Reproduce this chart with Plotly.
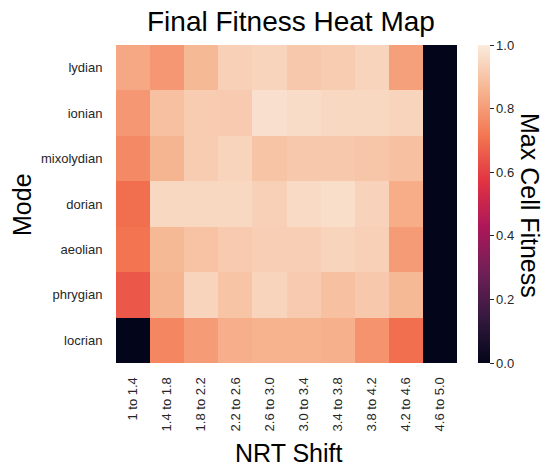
import plotly.graph_objects as go

modes = ["lydian", "ionian", "mixolydian", "dorian", "aeolian", "phrygian", "locrian"]
shifts = ["1 to 1.4", "1.4 to 1.8", "1.8 to 2.2", "2.2 to 2.6", "2.6 to 3.0",
          "3.0 to 3.4", "3.4 to 3.8", "3.8 to 4.2", "4.2 to 4.6", "4.6 to 5.0"]

lydian     = [0.83, 0.79, 0.87, 0.93, 0.94, 0.91, 0.92, 0.94, 0.81, 0.0]
ionian     = [0.79, 0.89, 0.92, 0.915, 0.97, 0.96, 0.95, 0.95, 0.94, 0.0]
mixolydian = [0.76, 0.86, 0.92, 0.94, 0.90, 0.91, 0.91, 0.905, 0.89, 0.0]
dorian     = [0.70, 0.95, 0.95, 0.95, 0.93, 0.955, 0.965, 0.935, 0.84, 0.0]
aeolian    = [0.71, 0.87, 0.895, 0.915, 0.925, 0.925, 0.94, 0.93, 0.80, 0.0]
phrygian   = [0.65, 0.86, 0.94, 0.90, 0.94, 0.915, 0.89, 0.91, 0.87, 0.0]
locrian    = [0.0, 0.75, 0.80, 0.845, 0.855, 0.855, 0.85, 0.78, 0.70, 0.0]

z = [lydian, ionian, mixolydian, dorian, aeolian, phrygian, locrian]

rocket = [
    [0.0, "#03051a"],
    [1/7, "#35193e"],
    [2/7, "#701f57"],
    [3/7, "#ad1759"],
    [4/7, "#e13342"],
    [5/7, "#f37651"],
    [6/7, "#f6b48f"],
    [1.0, "#faebdd"],
]

font = "Liberation Sans, Arial, sans-serif"
txt = "#262626"

W, H = 545, 468
L, R, T, B = 116, 88, 45, 105
pw, ph = W - L - R, H - T - B

def px(x):
    return (x - L) / pw

def py(y):
    return (H - B - y) / ph

fig = go.Figure(go.Heatmap(
    z=z, x=shifts, y=modes, zmin=0, zmax=1, colorscale=rocket, xgap=0, ygap=0,
    colorbar=dict(
        x=px(478), xanchor="left", xpad=0, ypad=0, y=0.5, yanchor="middle",
        len=1, lenmode="fraction", thickness=12, outlinewidth=0,
        ticks="outside", ticklen=4, tickcolor=txt, tickwidth=1,
        tickvals=[0, 0.2, 0.4, 0.6, 0.8, 1.0], tickformat=".1f",
        tickfont=dict(family=font, size=13, color=txt),
    ),
))

fig.update_layout(
    width=W, height=H,
    margin=dict(l=L, r=R, t=T, b=B, autoexpand=False),
    paper_bgcolor="white", plot_bgcolor="white",
    xaxis=dict(tickangle=-90, tickfont=dict(family=font, size=13, color=txt),
               showgrid=False, zeroline=False, ticks="outside", ticklen=8, tickcolor="rgba(0,0,0,0)"),
    yaxis=dict(autorange="reversed", tickfont=dict(family=font, size=13, color=txt),
               showgrid=False, zeroline=False, ticks="outside", ticklen=10, tickcolor="rgba(0,0,0,0)"),
    annotations=[
        dict(text="Final Fitness Heat Map", x=px(291), y=py(22), xref="paper", yref="paper",
             xanchor="center", yanchor="middle", showarrow=False,
             font=dict(family=font, size=28, color="black")),
        dict(text="NRT Shift", x=px(289), y=py(453), xref="paper", yref="paper",
             xanchor="center", yanchor="middle", showarrow=False,
             font=dict(family=font, size=25, color="black")),
        dict(text="Mode", x=px(22), y=py(205), xref="paper", yref="paper",
             xanchor="center", yanchor="middle", showarrow=False, textangle=-90,
             font=dict(family=font, size=25, color="black")),
        dict(text="Max Cell Fitness", x=px(530), y=py(205), xref="paper", yref="paper",
             xanchor="center", yanchor="middle", showarrow=False, textangle=90,
             font=dict(family=font, size=25, color="black")),
    ],
)

fig.write_html("out.html", config={"displayModeBar": False},
               post_script="document.body.style.margin='0';document.body.style.padding='0';document.body.style.overflow='hidden';")
